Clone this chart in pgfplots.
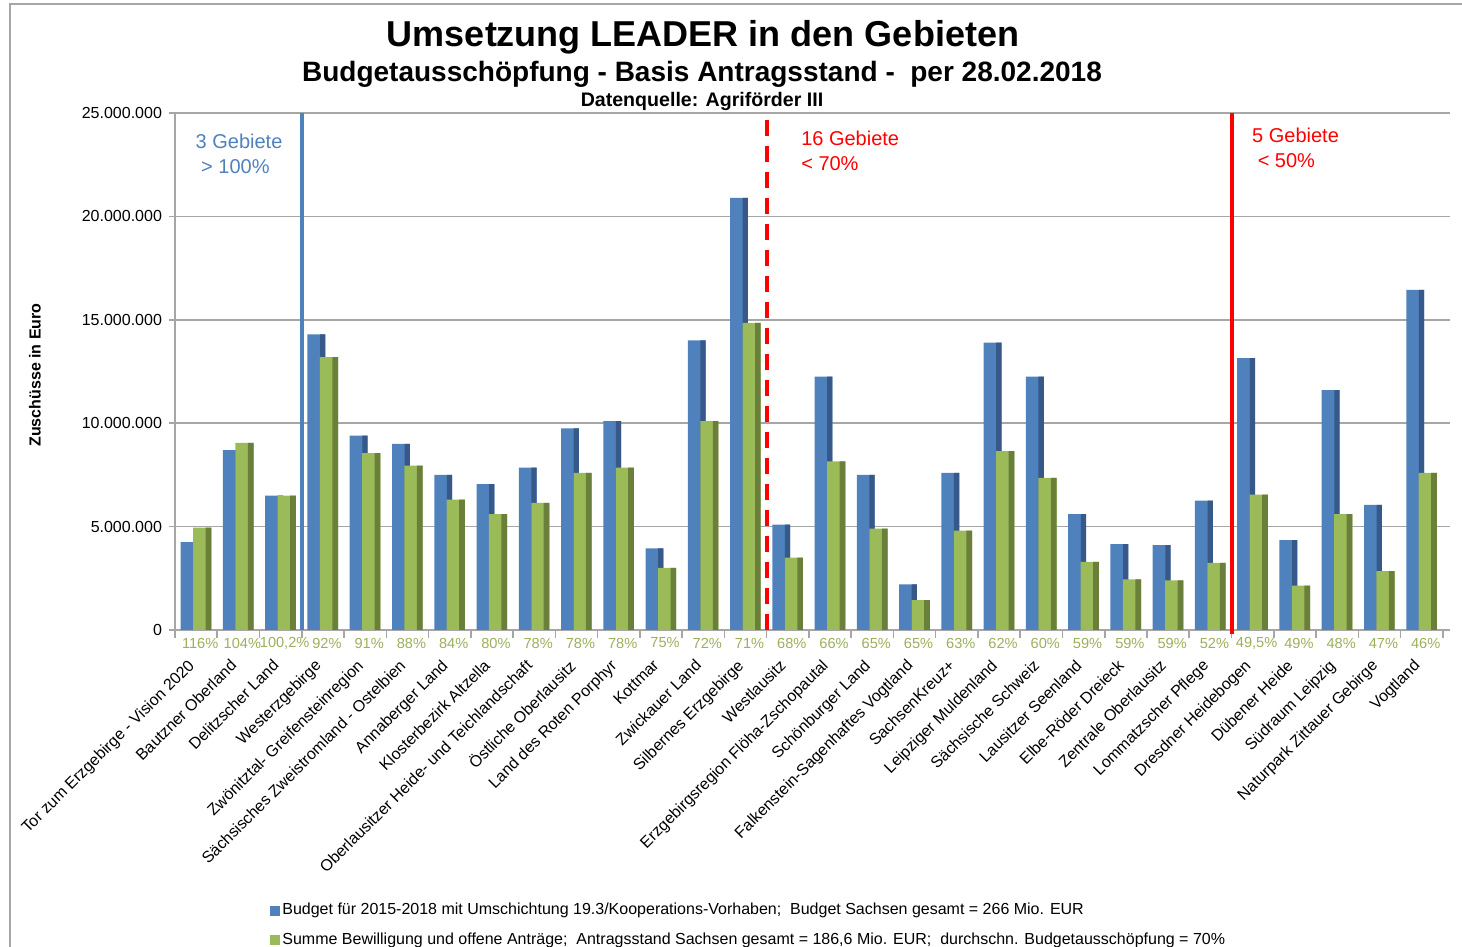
\documentclass[border=0pt]{standalone}
\usepackage{pgfplots}
\pgfplotsset{compat=1.18}
\usepackage{pgfplotstable}
\usepackage{fontspec}
\setmainfont{Liberation Sans}

\definecolor{cblue}{HTML}{4F81BD}
\definecolor{cbluedark}{HTML}{37598A}
\definecolor{cgreen}{HTML}{9BBB59}
\definecolor{cgreendark}{HTML}{6A7F3A}
\definecolor{cpct}{HTML}{9BB05A}
\definecolor{cgrid}{HTML}{A6A6A6}
\definecolor{cred}{HTML}{FF0000}

% values in Mio. EUR
\pgfplotstableread{
x budget antrag base pct
0  4.25  4.95 0 116\%
1  8.70  9.05 0 104\%
2  6.50  6.50 0 100,2\%
3  14.30 13.20 0 92\%
4  9.40  8.55 0 91\%
5  9.00  7.95 0 88\%
6  7.50  6.30 0 84\%
7  7.05  5.60 0 80\%
8  7.85  6.15 0 78\%
9  9.75  7.60 0 78\%
10 10.10 7.85 0 78\%
11 3.95  3.00 0 75\%
12 14.00 10.10 0 72\%
13 20.90 14.85 0 71\%
14 5.10  3.50 0 68\%
15 12.25 8.15 0 66\%
16 7.50  4.90 0 65\%
17 2.20  1.45 0 65\%
18 7.60  4.80 0 63\%
19 13.90 8.65 0 62\%
20 12.25 7.35 0 60\%
21 5.60  3.30 0 59\%
22 4.15  2.45 0 59\%
23 4.10  2.40 0 59\%
24 6.25  3.25 0 52\%
25 13.15 6.55 0 49,5\%
26 4.35  2.15 0 49\%
27 11.60 5.60 0 48\%
28 6.05  2.85 0 47\%
29 16.45 7.60 0 46\%
}\data

\begin{document}
\begin{tikzpicture}
\path[use as bounding box] (0,0) rectangle (731pt,473.5pt);
\draw[cgrid, line width=0.8pt] (5pt,0) -- (5pt,471.5pt) -- (731pt,471.5pt);

\node[font=\bfseries\fontsize{18}{21}\selectfont] at (351.5pt,455pt) {Umsetzung LEADER in den Gebieten};
\node[font=\bfseries\fontsize{14}{16}\selectfont] at (351pt,436.5pt) {Budgetausschöpfung - Basis Antragsstand - \ per 28.02.2018};
\node[font=\bfseries\fontsize{9.8}{11}\selectfont] at (351pt,423pt) {Datenquelle: Agriförder III};
\node[font=\bfseries\fontsize{8}{9}\selectfont, rotate=90] at (17.5pt,286pt) {Zuschüsse in Euro};

\begin{axis}[
  at={(87.5pt,158.5pt)}, anchor=south west,
  scale only axis, width=637.5pt, height=258.5pt,
  xmin=-0.5, xmax=29.67, ymin=0, ymax=25,
  clip=false,
  axis lines*=left,
  axis line style={cgrid, line width=0.8pt},
  ymajorgrids, grid style={cgrid, line width=0.8pt},
  ytick={0,5,10,15,20,25},
  yticklabels={0,5.000.000,10.000.000,15.000.000,20.000.000,25.000.000},
  yticklabel style={font=\fontsize{8}{9}\selectfont},
  xtick={0,...,29},
  major x tick style={draw=none},
  minor xtick={-0.5,0.5,...,29.5},
  minor x tick style={cgrid, line width=0.8pt},
  y tick style={cgrid, line width=0.8pt},
  tick align=outside,
  minor tick length=4pt, major tick length=3pt,
  xticklabels={Tor zum Erzgebirge - Vision 2020, Bautzner Oberland, Delitzscher Land, Westerzgebirge, Zwönitztal- Greifensteinregion, Sächsisches Zweistromland - Ostelbien, Annaberger Land, Klosterbezirk Altzella, Oberlausitzer Heide- und Teichlandschaft, Östliche Oberlausitz, Land des Roten Porphyr, Kottmar, Zwickauer Land, Silbernes Erzgebirge, Westlausitz, Erzgebirgsregion Flöha-Zschopautal, Schönburger Land, Falkenstein-Sagenhaftes Vogtland, SachsenKreuz+, Leipziger Muldenland, Sächsische Schweiz, Lausitzer Seenland, Elbe-Röder Dreieck, Zentrale Oberlausitz, Lommatzscher Pflege, Dresdner Heidebogen, Dübener Heide, Südraum Leipzig, Naturpark Zittauer Gebirge, Vogtland},
  xticklabel style={font=\fontsize{8}{9}\selectfont, rotate=45, anchor=north east, inner sep=0pt, xshift=-11pt, yshift=-4.5pt},
  legend style={at={(rel axis cs:0.0745,-0.524)}, anchor=north west, draw=none, fill=none,
    font=\fontsize{8}{9}\selectfont, row sep=5.5pt, inner sep=0pt,
    nodes={inner sep=1pt}},
  legend cell align=left,
]
% Budget
\addplot[ybar, bar width=0.42, bar shift=-0.155, fill=cblue, draw=none,
  legend image code/.code={\fill[cblue] (0pt,-2.5pt) rectangle (5pt,2.5pt);}]
  table[x=x, y=budget] {\data};
\addlegendentry{Budget für 2015-2018 mit Umschichtung 19.3/Kooperations-Vorhaben; \ Budget Sachsen gesamt = 266 Mio. EUR}
\addplot[ybar, bar width=0.125, bar shift=-0.005, fill=cbluedark, draw=none, forget plot]
  table[x=x, y=budget] {\data};
% Antragsstand
\addplot[ybar, bar width=0.43, bar shift=0.145, fill=cgreen, draw=none,
  legend image code/.code={\fill[cgreen] (0pt,-2.5pt) rectangle (5pt,2.5pt);}]
  table[x=x, y=antrag] {\data};
\addlegendentry{Summe Bewilligung und offene Anträge; \ Antragsstand Sachsen gesamt = 186,6 Mio. EUR; \ durchschn. Budgetausschöpfung = 70\%}
\addplot[ybar, bar width=0.135, bar shift=0.2925, fill=cgreendark, draw=none, forget plot]
  table[x=x, y=antrag] {\data};
% percentages
\addplot[draw=none, mark=none, forget plot, point meta=explicit symbolic,
  nodes near coords, every node near coord/.append style={font=\fontsize{7.3}{8}\selectfont, text=cpct, anchor=center, yshift=-6.5pt, xshift=2pt, inner sep=0pt}]
  table[x=x, y=base, meta=pct] {\data};
% group separators
\addplot[cblue, line width=2pt, forget plot] coordinates {(2.5,0) (2.5,25)};
\addplot[cred, line width=2pt, dash pattern=on 8pt off 5pt, forget plot] coordinates {(13.5,24.66) (13.5,-0.2)};
\addplot[cred, line width=2pt, forget plot] coordinates {(24.5,25) (24.5,-0.2)};
\node[anchor=north west, align=left, text=cblue, font=\fontsize{10}{12.5}\selectfont, inner sep=0pt] at (axis cs:-0.02,24.0) {3 Gebiete\\\ > 100\%};
\node[anchor=north west, align=left, text=cred, font=\fontsize{10}{12.5}\selectfont, inner sep=0pt] at (axis cs:14.31,24.13) {16 Gebiete\\< 70\%};
\node[anchor=north west, align=left, text=cred, font=\fontsize{10}{12.5}\selectfont, inner sep=0pt] at (axis cs:24.98,24.27) {5 Gebiete\\\ < 50\%};
\end{axis}
\end{tikzpicture}
\end{document}
